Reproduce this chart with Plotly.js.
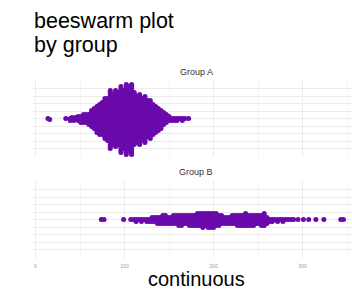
<!DOCTYPE html>
<html>
<head>
<meta charset="utf-8">
<script src="https://cdn.plot.ly/plotly-3.0.1.min.js"></script>
<style>html,body{margin:0;padding:0;background:#fff;}#chart{width:352px;height:289px;}</style>
</head>
<body>
<div id="chart"></div>
<script>
// ---- data (value bins, with point counts) ----
const groupNames = ["Group A", "Group B"];
const groupAValues = [14,16,34,39,41,43,45,48,51,54,57,60,63,66,69,72,75,78,81,84,87,90,93,96,99,102,105,108,111,114,117,120,123,126,129,132,135,138,141,144,147,150,153,156,159,162,165,168,172];
const groupACounts = [1,1,1,2,2,2,2,3,4,5,5,6,9,11,14,16,17,21,22,30,26,29,27,34,30,36,33,36,27,24,26,22,24,19,20,16,14,12,10,7,5,3,2,2,2,1,2,1,1];
const groupBValues = [74,77,99,107,110,113,116,119,122,125,128,131,134,137,140,143,146,149,152,155,158,161,164,167,170,173,176,179,182,185,188,191,194,197,200,203,206,209,212,215,218,221,224,227,230,233,236,239,242,245,248,251,254,257,260,263,266,269,272,275,278,281,284,287,290,295,301,307,315,324,343,346];
const groupBCounts = [1,1,1,1,1,2,1,2,1,2,2,3,3,4,4,5,5,4,4,5,5,6,6,5,5,6,6,6,7,7,8,7,8,8,8,7,6,5,4,4,4,5,5,6,6,6,7,6,6,6,5,5,6,7,4,2,2,1,2,1,2,1,1,1,1,1,1,1,1,1,1,1];
const xTickVals = [0,100,200,300];
const xTickText = ["0","100","200","300"];

// ---- layout geometry ----
const W = 352, H = 289, ML = 33, MR = 0;
const xRange = [-2.8, 355.6];
const pxPerUnit = (W - ML - MR) / (xRange[1] - xRange[0]);
const panelA = [80, 157], panelB = [181, 258];   // pixel rows of each panel
const spacing = 2;  // beeswarm spacing in px
const purple = "#6a0aab";

function expand(vals, counts){
  const out = [];
  vals.forEach((v,i)=>{ for(let k=0;k<counts[i];k++) out.push(v); });
  return out;
}
function swarm(vals){
  const pts = vals.slice().sort((a,b)=>a-b).map(v=>({v:v, x:v*pxPerUnit, y:0}));
  const placed = [];
  const s2 = spacing*spacing;
  for (const p of pts){
    const near = placed.filter(q => Math.abs(p.x - q.x) < spacing);
    const cands = [0];
    for (const q of near){
      const dx = p.x - q.x, dy = Math.sqrt(s2 - dx*dx);
      cands.push(q.y + dy, q.y - dy);
    }
    cands.sort((a,b)=> (Math.abs(a)-Math.abs(b)) || (a-b));
    for (const c of cands){
      if (near.every(q => (p.x-q.x)*(p.x-q.x) + (c-q.y)*(c-q.y) >= s2 - 1e-6)){ p.y = c; break; }
    }
    placed.push(p);
  }
  return placed;
}

const sA = swarm(expand(groupAValues, groupACounts));
const sB = swarm(expand(groupBValues, groupBCounts));

const hA = panelA[1]-panelA[0], hB = panelB[1]-panelB[0];
const traces = [
  {type:"scatter", mode:"markers", x:sA.map(p=>p.v), y:sA.map(p=>p.y), xaxis:"x", yaxis:"y",
   marker:{color:purple, size:5, line:{width:0}}, hoverinfo:"x", showlegend:false, name:groupNames[0], cliponaxis:true},
  {type:"scatter", mode:"markers", x:sB.map(p=>p.v), y:sB.map(p=>p.y), xaxis:"x2", yaxis:"y2",
   marker:{color:purple, size:5, line:{width:0}}, hoverinfo:"x", showlegend:false, name:groupNames[1], cliponaxis:true}
];

const gridc = "#ebebeb";
function xax(showLabels){
  return {range:xRange, domain:[0,1], tickvals:xTickVals, ticktext:xTickText, showticklabels:showLabels,
    showgrid:true, gridcolor:gridc, gridwidth:1, zeroline:false, showline:false, ticks:"", ticklabelstandoff:4,
    minor:{dtick:50, tick0:0, showgrid:true, gridcolor:"#f0f0f0", gridwidth:0.7},
    tickfont:{family:"Liberation Sans, Arial, sans-serif", size:5, color:"#9a9a9a"}, fixedrange:true};
}
function yax(px, h){
  return {domain:[1-px[1]/H, 1-px[0]/H], range:[-h/2, h/2], tick0:0, dtick:7.5, showticklabels:false,
    showgrid:true, gridcolor:gridc, gridwidth:1, zeroline:false, showline:false, ticks:"", fixedrange:true};
}
const font = "Liberation Sans, Arial, sans-serif";
const layout = {
  width:W, height:H, margin:{l:ML, r:MR, t:0, b:0}, paper_bgcolor:"#fff", plot_bgcolor:"#fff",
  showlegend:false,
  xaxis: Object.assign(xax(false), {anchor:"y"}),
  yaxis: Object.assign(yax(panelA, hA), {anchor:"x"}),
  xaxis2: Object.assign(xax(true), {anchor:"y2"}),
  yaxis2: Object.assign(yax(panelB, hB), {anchor:"x2"}),
  annotations:[
    {text:"beeswarm plot", xref:"paper", yref:"paper", x:0, xanchor:"left", yanchor:"middle", borderpad:0,
     y:1-21/H, showarrow:false, font:{family:font, size:21.5, color:"#000"}},
    {text:"by group", xref:"paper", yref:"paper", x:0, xanchor:"left", yanchor:"middle", borderpad:0,
     y:1-45.3/H, showarrow:false, font:{family:font, size:21.5, color:"#000"}},
    {text:groupNames[0], xref:"paper", yref:"paper", x:(196-ML)/(W-ML), xanchor:"center", yanchor:"middle",
     y:1-72/H, showarrow:false, font:{family:font, size:9, color:"#333"}},
    {text:groupNames[1], xref:"paper", yref:"paper", x:(196-ML)/(W-ML), xanchor:"center", yanchor:"middle",
     y:1-172/H, showarrow:false, font:{family:font, size:9, color:"#333"}},
    {text:"continuous", xref:"paper", yref:"paper", x:(196-ML)/(W-ML), xanchor:"center", yanchor:"middle",
     y:1-279/H, showarrow:false, font:{family:font, size:20, color:"#000"}}
  ]
};
Plotly.newPlot("chart", traces, layout, {displayModeBar:false, staticPlot:true});
</script>
</body>
</html>
